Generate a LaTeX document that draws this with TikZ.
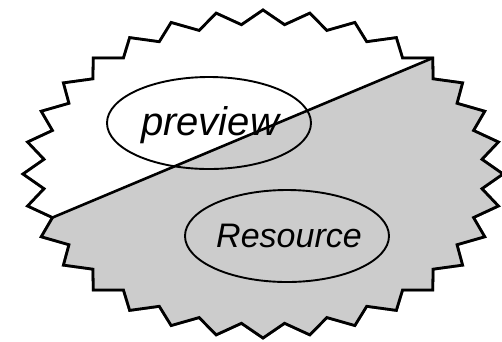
\documentclass[tikz,border=0pt]{standalone}
\usepackage{fontspec}
\setmainfont{Liberation Sans}
\usetikzlibrary{shapes.geometric,calc}
\definecolor{burstgray}{RGB}{204,204,204}
\begin{document}
\begin{tikzpicture}[x=1pt,y=-1pt,
  burstline/.style={line width=2.8pt, line join=miter, miter limit=10},
  shadowline/.style={line width=2.8pt, line join=miter, draw=black!60, fill=black!60},
  oval/.style={draw, ellipse, line width=1.9pt, minimum width=204pt, minimum height=92pt, inner sep=0pt},
  lbl/.style={anchor=base, inner sep=0pt}]
\useasboundingbox (0,0) rectangle (502,341);

% star-burst corners: 32 outer points, 32 inner notches
\foreach \k in {0,...,63}{
  \pgfmathsetmacro\rx{iseven(\k) ? 240 : 220}
  \pgfmathsetmacro\ry{iseven(\k) ? 164 : 150}
  \coordinate (b\k) at ({263+\rx*cos(\k*5.625)}, {174-\ry*sin(\k*5.625)});
}

% drop shadow of the burst
\begin{scope}[shift={(2,2)}]
  \path[shadowline] (b0) \foreach \k in {1,...,63}{ -- (b\k)} -- cycle;
\end{scope}
\fill[white] (b0) \foreach \k in {1,...,63}{ -- (b\k)} -- cycle;

% grey lower part, cut off by the diagonal
\fill[burstgray] (b35) \foreach \k in {36,...,63}{ -- (b\k)} -- (b0)
  \foreach \k in {1,...,8}{ -- (b\k)} -- cycle;

% burst outline and the dividing line
\draw[burstline] (b0) \foreach \k in {1,...,63}{ -- (b\k)} -- cycle;
\draw[line width=2.6pt] (b35) -- (b8);

% the two ovals
\node[oval] (preview) at (209,123) {};
\node[oval] (resource) at (287,236) {};

% labels
\node[lbl, font=\itshape\fontsize{40}{48}\selectfont] (previewtext) at ($(preview.center)+(1,12)$) {preview};
\node[lbl, font=\itshape\fontsize{34}{40}\selectfont] (resourcetext) at ($(resource.center)+(2,11)$) {Resource};
\end{tikzpicture}
\end{document}
